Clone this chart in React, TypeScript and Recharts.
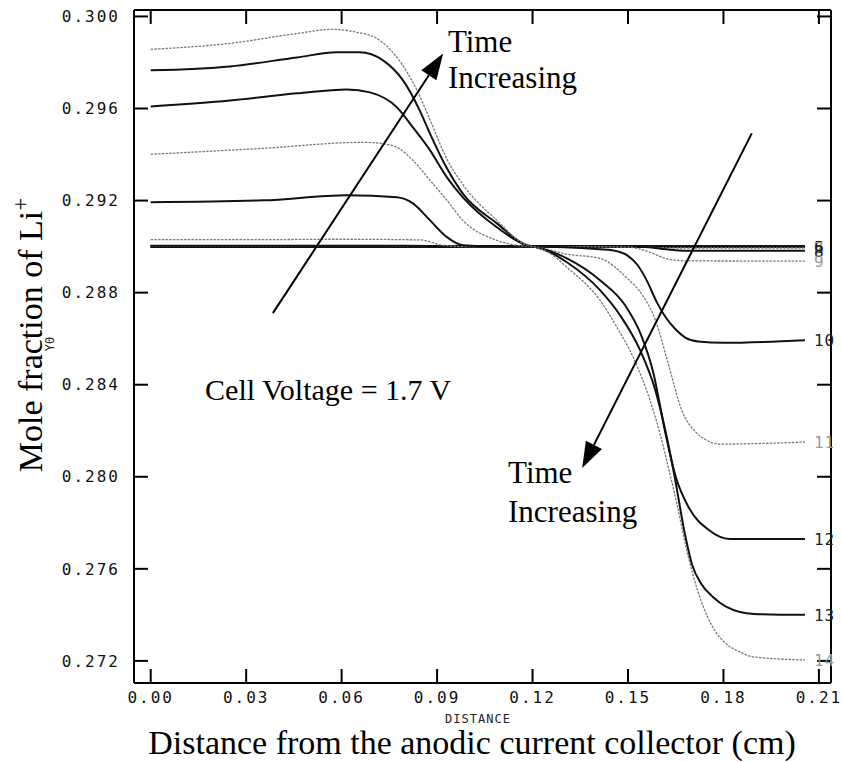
import React from 'react';
import { LineChart, Line, XAxis, YAxis, ReferenceLine, ReferenceDot, Label } from 'recharts';

// ---------- axis settings ----------
const X_DOMAIN: [number, number] = [-0.00525, 0.2138];
const Y_DOMAIN: [number, number] = [0.27104, 0.30028];
const X_TICKS = [0, 0.03, 0.06, 0.09, 0.12, 0.15, 0.18, 0.21];
const Y_TICKS = [0.272, 0.276, 0.28, 0.284, 0.288, 0.292, 0.296, 0.3];

// ---------- curves (distance cm, mole fraction) ----------
const flatX = [0, 0.05, 0.1, 0.15, 0.2056];
const curve1Y = [0.29, 0.29, 0.29, 0.29, 0.29];
const curve2Y = [0.29, 0.29, 0.29, 0.29, 0.29];
const curve3Y = [0.29, 0.29, 0.29, 0.29, 0.29];
const curve4Y = [0.29, 0.29, 0.29, 0.29, 0.29];
const curve5Y = [0.29, 0.29, 0.29, 0.29, 0.29];

const c6X = [0, 0.05, 0.1, 0.15, 0.165, 0.2056];
const c6Y = [0.29, 0.29, 0.29, 0.29, 0.28998, 0.28998];
const c7X = [0, 0.05, 0.09, 0.1, 0.15, 0.165, 0.2056];
const c7Y = [0.29001, 0.29001, 0.29001, 0.29, 0.29, 0.28994, 0.28994];
const c8X = [0, 0.05, 0.088, 0.095, 0.12, 0.155, 0.162, 0.168, 0.2056];
const c8Y = [0.29004, 0.29004, 0.29003, 0.29, 0.29, 0.28998, 0.28988, 0.28982, 0.28982];
const c9X = [0, 0.03, 0.06, 0.085, 0.092, 0.1, 0.12, 0.15, 0.157, 0.162, 0.168, 0.2056];
const c9Y = [0.2903, 0.2903, 0.29032, 0.29029, 0.29005, 0.29, 0.29, 0.28998, 0.28975, 0.28948, 0.28938, 0.28937];

const c10X = [0, 0.0353, 0.0617, 0.0774, 0.0824, 0.0878, 0.0931, 0.0981, 0.1088, 0.1204, 0.1412, 0.145, 0.15, 0.153, 0.156, 0.159, 0.162, 0.165, 0.168, 0.172, 0.18, 0.2056];
const c10Y = [0.29193, 0.29201, 0.29223, 0.29214, 0.29188, 0.29114, 0.29041, 0.29006, 0.29, 0.29, 0.28988, 0.28984, 0.2896, 0.2892, 0.2885, 0.2876, 0.2869, 0.2864, 0.28605, 0.28588, 0.28582, 0.28593];

const c11X = [0, 0.0353, 0.0667, 0.072, 0.0774, 0.0824, 0.0878, 0.0931, 0.0981, 0.1088, 0.1182, 0.1204, 0.1308, 0.1412, 0.1497, 0.1545, 0.1585, 0.1626, 0.167, 0.1713, 0.1745, 0.1786, 0.2056];
const c11Y = [0.29401, 0.29427, 0.29453, 0.29449, 0.29431, 0.29375, 0.29288, 0.29201, 0.29114, 0.29027, 0.29001, 0.29, 0.28967, 0.28949, 0.28863, 0.2879, 0.28685, 0.28494, 0.28285, 0.28194, 0.2816, 0.28142, 0.28151];

const c12X = [0, 0.0249, 0.046, 0.0617, 0.0689, 0.0774, 0.0824, 0.0878, 0.0931, 0.0981, 0.1088, 0.1182, 0.1204, 0.1255, 0.1308, 0.1412, 0.1491, 0.154, 0.158, 0.1616, 0.165, 0.1692, 0.1754, 0.182, 0.2056];
const c12Y = [0.29609, 0.29635, 0.29666, 0.29683, 0.2967, 0.29605, 0.29518, 0.29418, 0.29301, 0.29214, 0.29084, 0.29006, 0.29, 0.2898, 0.28949, 0.28854, 0.28745, 0.2862, 0.2845, 0.282, 0.28, 0.27864, 0.27769, 0.2773, 0.2773];

const c13X = [0, 0.0249, 0.046, 0.0585, 0.0657, 0.073, 0.0793, 0.0846, 0.0878, 0.0931, 0.0981, 0.1088, 0.1182, 0.1204, 0.1255, 0.1308, 0.1412, 0.1475, 0.1538, 0.1585, 0.1616, 0.1648, 0.1679, 0.1701, 0.173, 0.1767, 0.1808, 0.1896, 0.2056];
const c13Y = [0.29766, 0.29783, 0.29822, 0.29844, 0.29844, 0.29809, 0.29722, 0.2959, 0.2949, 0.2934, 0.2923, 0.29101, 0.29006, 0.29, 0.28975, 0.28932, 0.28811, 0.28702, 0.2855, 0.2838, 0.2821, 0.2799, 0.2775, 0.2762, 0.27535, 0.27478, 0.27436, 0.27404, 0.274];

const c14X = [0, 0.0249, 0.046, 0.0573, 0.0648, 0.0711, 0.0774, 0.0837, 0.0878, 0.0931, 0.0981, 0.1088, 0.1182, 0.1204, 0.1255, 0.1308, 0.1412, 0.1465, 0.1516, 0.1569, 0.16, 0.1627, 0.1654, 0.168, 0.1705, 0.173, 0.1767, 0.1808, 0.185, 0.1896, 0.2056];
const c14Y = [0.29857, 0.29883, 0.29926, 0.29944, 0.29931, 0.29904, 0.29822, 0.29679, 0.2955, 0.2938, 0.2927, 0.29114, 0.29006, 0.29, 0.28971, 0.2891, 0.28767, 0.2865, 0.2852, 0.28333, 0.2819, 0.2804, 0.2788, 0.2771, 0.2757, 0.2746, 0.27345, 0.27275, 0.2724, 0.27217, 0.27204];

// ---------- annotation anchors (data units) ----------
const ARROW_UP = { from: [0.0384, 0.28711], to: [0.0919, 0.29839] };
const ARROW_DOWN = { from: [0.1889, 0.29492], to: [0.1356, 0.28038] };
const TEXT_TOP = { x: 0.0934, y1: 0.29844 };
const TEXT_BOTTOM = { x: 0.1123, y1: 0.27973 };
const TEXT_VOLT = { x: 0.0171, y: 0.28333 };

const zip = (xs: number[], ys: number[]) => xs.map((x, i) => ({ x, y: ys[i] }));

const SERIF = "'Liberation Serif', 'Times New Roman', serif";
const MONO = "'DejaVu Sans Mono', 'Liberation Mono', monospace";

const SOLID = '#111';
const DOTTED = '#7a7a7a';

type Series = { id: string; data: { x: number; y: number }[]; dotted: boolean; label?: string };

const SERIES: Series[] = [
  { id: 'c1', data: zip(flatX, curve1Y), dotted: false },
  { id: 'c2', data: zip(flatX, curve2Y), dotted: false },
  { id: 'c3', data: zip(flatX, curve3Y), dotted: false },
  { id: 'c4', data: zip(flatX, curve4Y), dotted: false },
  { id: 'c5', data: zip(flatX, curve5Y), dotted: false, label: '5' },
  { id: 'c6', data: zip(c6X, c6Y), dotted: false, label: '6' },
  { id: 'c7', data: zip(c7X, c7Y), dotted: true, label: '7' },
  { id: 'c8', data: zip(c8X, c8Y), dotted: false, label: '8' },
  { id: 'c9', data: zip(c9X, c9Y), dotted: true, label: '9' },
  { id: 'c10', data: zip(c10X, c10Y), dotted: false, label: '10' },
  { id: 'c11', data: zip(c11X, c11Y), dotted: true, label: '11' },
  { id: 'c12', data: zip(c12X, c12Y), dotted: false, label: '12' },
  { id: 'c13', data: zip(c13X, c13Y), dotted: false, label: '13' },
  { id: 'c14', data: zip(c14X, c14Y), dotted: true, label: '14' },
];

const makeEndLabel = (text: string, len: number, dotted: boolean) => (props: any) => {
  if (props.index !== len - 1) return null;
  return (
    <text
      x={props.x + 9}
      y={props.y}
      dy={6}
      fontFamily={MONO}
      fontSize={16}
      letterSpacing={1}
      fill={dotted ? '#999' : '#222'}
      textAnchor="start"
    >
      {text}
    </text>
  );
};

const ArrowShape = (props: any) => {
  const { x1, y1, x2, y2 } = props;
  const dx = x2 - x1;
  const dy = y2 - y1;
  const len = Math.sqrt(dx * dx + dy * dy);
  const ux = dx / len;
  const uy = dy / len;
  const headL = 26;
  const headW = 9;
  const bx = x2 - ux * headL;
  const by = y2 - uy * headL;
  const px = -uy;
  const py = ux;
  return (
    <g>
      <line x1={x1} y1={y1} x2={bx} y2={by} stroke="#000" strokeWidth={2} />
      <polygon
        points={`${x2},${y2} ${bx + px * headW},${by + py * headW} ${bx - px * headW},${by - py * headW}`}
        fill="#000"
      />
    </g>
  );
};

const twoLine = (l1: string, l2: string, lineGap: number) => (props: any) => (
  <text x={props.cx} y={props.cy} fontFamily={SERIF} fontSize={31} fill="#000">
    <tspan x={props.cx}>{l1}</tspan>
    <tspan x={props.cx} dy={lineGap}>{l2}</tspan>
  </text>
);

const oneLine = (l1: string) => (props: any) => (
  <text x={props.cx} y={props.cy} fontFamily={SERIF} fontSize={30} fill="#000">
    {l1}
  </text>
);

const XTitles = () => (
  <g>
    <text x={478} y={723} textAnchor="middle" fontFamily={MONO} fontSize={12} letterSpacing={1} fill="#222">
      DISTANCE
    </text>
    <text x={472} y={754} textAnchor="middle" fontFamily={SERIF} fontSize={34} fill="#000">
      Distance from the anodic current collector (cm)
    </text>
  </g>
);

const YTitles = () => (
  <g>
    <text transform="rotate(-90)" x={-335} y={42} textAnchor="middle" fontFamily={SERIF} fontSize={34} fill="#000">
      Mole fraction of Li<tspan dy={-14} fontSize={23}>+</tspan>
    </text>
    <text transform="rotate(-90)" x={-344} y={54} textAnchor="middle" fontFamily={MONO} fontSize={12} fill="#222">
      Y0
    </text>
  </g>
);

const tickFont = { fontFamily: MONO, fontSize: 16, fill: '#111', letterSpacing: 2 };
const axisLineStyle = { stroke: '#000', strokeWidth: 2 };

export default function App() {
  return (
    <div style={{ position: 'absolute', left: 0, top: 0, background: '#fff' }}>
      <LineChart width={842} height={762} margin={{ top: 0, right: 0, bottom: 0, left: 0 }}>
        <XAxis
          xAxisId={0}
          type="number"
          dataKey="x"
          orientation="bottom"
          domain={X_DOMAIN}
          ticks={X_TICKS}
          allowDataOverflow
          height={79}
          tickSize={-14}
          tickMargin={23}
          tickFormatter={(v: number) => v.toFixed(2)}
          tick={tickFont}
          axisLine={axisLineStyle}
          tickLine={axisLineStyle}
        >
          <Label content={XTitles} />
        </XAxis>
        <XAxis
          xAxisId="top"
          type="number"
          dataKey="x"
          orientation="top"
          domain={X_DOMAIN}
          ticks={X_TICKS}
          allowDataOverflow
          height={10}
          tickSize={-14}
          tickFormatter={() => ''}
          axisLine={axisLineStyle}
          tickLine={axisLineStyle}
        />
        <YAxis
          yAxisId={0}
          type="number"
          orientation="left"
          domain={Y_DOMAIN}
          ticks={Y_TICKS}
          allowDataOverflow
          width={134}
          tickSize={-14}
          tickMargin={28}
          tickFormatter={(v: number) => v.toFixed(3)}
          tick={tickFont}
          axisLine={axisLineStyle}
          tickLine={axisLineStyle}
        >
          <Label content={YTitles} />
        </YAxis>
        <YAxis
          yAxisId="right"
          type="number"
          orientation="right"
          domain={Y_DOMAIN}
          ticks={Y_TICKS}
          allowDataOverflow
          width={11}
          tickSize={-14}
          tickFormatter={() => ''}
          axisLine={axisLineStyle}
          tickLine={axisLineStyle}
        />
        {SERIES.map((s) => (
          <Line
            key={s.id}
            data={s.data}
            dataKey="y"
            type="monotone"
            stroke={s.dotted ? DOTTED : SOLID}
            strokeWidth={s.dotted ? 1.3 : 2}
            strokeDasharray={s.dotted ? '2.5 1.2' : undefined}
            dot={false}
            activeDot={false}
            isAnimationActive={false}
            label={s.label ? makeEndLabel(s.label, s.data.length, s.dotted) : undefined}
          />
        ))}
        <ReferenceLine
          segment={[
            { x: ARROW_UP.from[0], y: ARROW_UP.from[1] },
            { x: ARROW_UP.to[0], y: ARROW_UP.to[1] },
          ]}
          shape={ArrowShape}
          ifOverflow="visible"
        />
        <ReferenceLine
          segment={[
            { x: ARROW_DOWN.from[0], y: ARROW_DOWN.from[1] },
            { x: ARROW_DOWN.to[0], y: ARROW_DOWN.to[1] },
          ]}
          shape={ArrowShape}
          ifOverflow="visible"
        />
        <ReferenceDot x={TEXT_TOP.x} y={TEXT_TOP.y1} r={0} ifOverflow="visible" shape={twoLine('Time', 'Increasing', 36)} />
        <ReferenceDot x={TEXT_BOTTOM.x} y={TEXT_BOTTOM.y1} r={0} ifOverflow="visible" shape={twoLine('Time', 'Increasing', 39)} />
        <ReferenceDot x={TEXT_VOLT.x} y={TEXT_VOLT.y} r={0} ifOverflow="visible" shape={oneLine('Cell Voltage = 1.7 V')} />
      </LineChart>
    </div>
  );
}
